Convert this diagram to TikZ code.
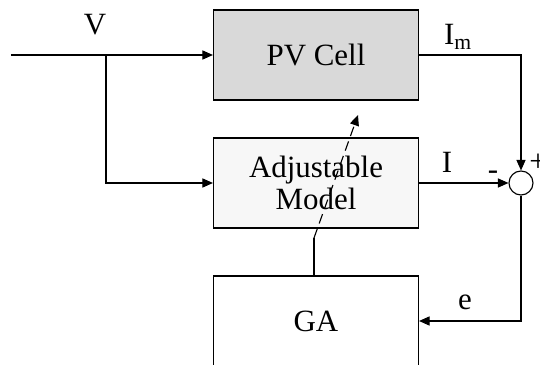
\documentclass[tikz,border=0pt]{standalone}
\usepackage{fontspec}
\setmainfont{Liberation Serif}
\usetikzlibrary{arrows.meta, positioning}
\definecolor{mycellgray}{RGB}{217, 217, 217}
\definecolor{mymodelgray}{RGB}{247, 247, 247}

\begin{document}
\begin{tikzpicture}[>={Triangle[length=7.5pt, width=6.5pt]}, line width=0.8pt,
    block/.style={draw, minimum width=5.125cm, minimum height=2.25cm, align=center, font=\fontsize{22}{24}\selectfont},
    lbl/.style={font=\fontsize{22}{24}\selectfont}]
\clip (0,0) rectangle (13.5,9.125);
% Blocks
\node[block, fill=mycellgray] (cell) at (7.9,7.75) {PV Cell};
\node[block, fill=mymodelgray] (model) at (7.9,4.55) {Adjustable\\[-1pt]Model};
\node[block] (ga) at (7.9,1.1) {GA};
\node[draw, circle, minimum size=0.6cm, inner sep=0pt] (sum) at (13.025,4.55) {};

% Input voltage
\coordinate (in) at (0.275,7.75);
\coordinate (split) at (2.65,7.75);
\draw[->] (in) -- (cell.west);
\draw[->] (split) |- (model.west);
\node[lbl] (v) at (2.375,8.5) {V};

% Currents to the comparator
\draw[->] (cell.east) -| (sum.north);
\draw[->] (model.east) -- (sum.west);
\node[lbl] (im) at (11.45,8.2) {I\textsubscript{m}};
\node[lbl] (i) at (11.175,5.075) {I};
\node[lbl] (minus) at (12.325,4.75) {-};
\node[lbl] (plus) at (13.45,5.05) {+};

% Error feedback
\draw[->] (sum.south) |- (ga.east);
\node[lbl] (e) at (11.625,1.575) {e};

% Parameter tuning
\coordinate (tune) at (7.85,3.175);
\coordinate (tip) at (8.95,6.25);
\draw (ga.north -| tune) -- (tune);
\draw[->, dash pattern=on 7pt off 4pt] (tune) -- (tip);
\end{tikzpicture}
\end{document}
